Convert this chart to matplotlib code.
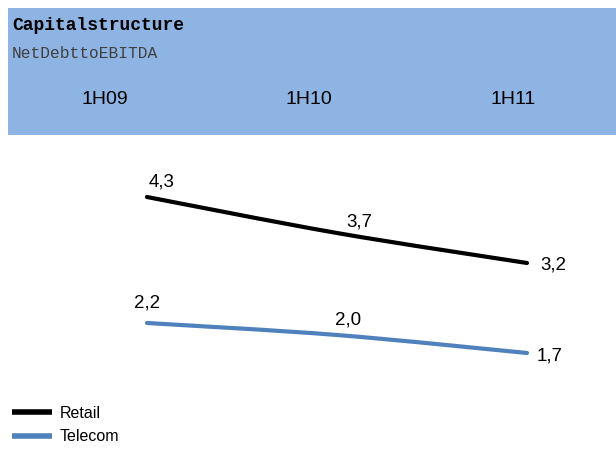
import matplotlib
matplotlib.use("Agg")
import matplotlib.pyplot as plt
from matplotlib.path import Path
from matplotlib.patches import PathPatch
from matplotlib.lines import Line2D

periods = ["1H09", "1H10", "1H11"]
retail = [4.3, 3.7, 3.2]
telecom = [2.2, 2.0, 1.7]
series_names = ["Retail", "Telecom"]

title = "Capitalstructure"
subtitle = "NetDebttoEBITDA"

HEADER_BLUE = "#8eb4e3"
colors = ["#000000", "#4f81bd"]

W, H = 616, 450
fig = plt.figure(figsize=(W / 100, H / 100), dpi=100)


def fx(px):
    return px / W


def fy(py):
    # pixel rows are counted from the top
    return 1 - py / H


def smooth_path(xs, ys):
    # excel-style smoothed line: catmull-rom turned into cubic beziers
    pts = list(zip(xs, ys))
    ext = [pts[0]] + pts + [pts[-1]]
    verts = [pts[0]]
    codes = [Path.MOVETO]
    for i in range(1, len(ext) - 2):
        p0, p1, p2, p3 = ext[i - 1], ext[i], ext[i + 1], ext[i + 2]
        c1 = (p1[0] + (p2[0] - p0[0]) / 6, p1[1] + (p2[1] - p0[1]) / 6)
        c2 = (p2[0] - (p3[0] - p1[0]) / 6, p2[1] - (p3[1] - p1[1]) / 6)
        verts += [c1, c2, p2]
        codes += [Path.CURVE4] * 3
    return Path(verts, codes)


# main plotting area covers the whole figure, 60 px per unit, 190 px per period
ax = fig.add_axes([0, 0, 1, 1])
ax.set_xlim(-147 / 190, (W - 147) / 190)
ax.set_ylim(4.3 - (H - 197) / 60, 4.3 + 197 / 60)
ax.axis("off")

xs = list(range(len(periods)))
label_offsets = [
    [(15, 10.5), (22, 6.5), (26, -6.5)],
    [(0, 15), (11, 10.5), (23, -7.5)],
]
for vals, color, offs in zip([retail, telecom], colors, label_offsets):
    patch = PathPatch(smooth_path(xs, vals), fill=False, edgecolor=color,
                      linewidth=3, capstyle="round", joinstyle="round")
    ax.add_patch(patch)
    for x, v, off in zip(xs, vals, offs):
        ax.annotate(f"{v:.1f}".replace(".", ","), (x, v), xytext=off,
                    textcoords="offset pixels", ha="center", va="baseline",
                    fontsize=13.5, family="Liberation Sans", color="black")

handles = [Line2D([], [], color=c, linewidth=4, solid_capstyle="butt") for c in colors]
leg = fig.legend(handles, series_names, loc="center left",
                 bbox_to_anchor=(fx(12), fy(425)), frameon=False,
                 prop={"family": "Liberation Sans", "size": 11.5},
                 handlelength=2.5, handletextpad=0.5, labelspacing=0.55,
                 borderpad=0, borderaxespad=0)

# blue header band with title and period labels
hdr = fig.add_axes([fx(8), fy(135), fx(W - 8), (135 - 8) / H])
hdr.set_facecolor(HEADER_BLUE)
for s in hdr.spines.values():
    s.set_visible(False)
hdr.set_xticks([])
hdr.set_yticks([])
hdr.set_xlim(-97 / 204, -97 / 204 + (W - 8) / 204)
hdr.set_ylim(0, 1)
for x, p in zip(xs, periods):
    hdr.text(x, (135 - 100) / 127, p, ha="center", va="center",
             fontsize=14, family="Liberation Sans", color="black")

fig.text(fx(12), fy(30), title, ha="left", va="baseline", fontsize=13,
         family="Liberation Mono", fontweight="bold", color="black")
fig.text(fx(12), fy(58), subtitle, ha="left", va="baseline", fontsize=11.7,
         family="Liberation Mono", color="#404040")

fig.savefig("out.png", dpi=100)
